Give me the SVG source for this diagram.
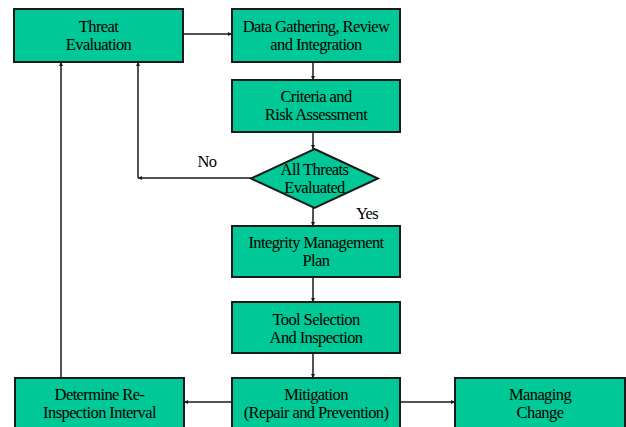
<svg xmlns="http://www.w3.org/2000/svg" width="626" height="427" viewBox="0 0 626 427">
<defs>
<style>
.box{fill:#00c896;stroke:#1a1a1a;stroke-width:2}
.t{font-family:'Liberation Serif','Times New Roman','DejaVu Serif',serif;font-size:16.5px;fill:#000;text-anchor:middle;letter-spacing:-0.6px}
.c{stroke:#1a1a1a;stroke-width:1.5;fill:none;marker-end:url(#ah)}
</style>
<marker id="ah" viewBox="0 0 10 10" refX="10" refY="5" markerWidth="4" markerHeight="4" orient="auto" markerUnits="userSpaceOnUse">
<path d="M0,0 L10,5 L0,10 z" fill="#1a1a1a"/>
</marker>
</defs>
<rect width="626" height="427" fill="#fff"/>
<g id="connectors">
<path class="c" d="M183,34 H232"/>
<path class="c" d="M313,62 V80"/>
<path class="c" d="M313,132 V149"/>
<path class="c" d="M251,178 H138"/>
<path class="c" d="M138,178 V62"/>
<path class="c" d="M313,208 V226"/>
<path class="c" d="M313,277 V302"/>
<path class="c" d="M313,353 V378"/>
<path class="c" d="M232,402 H184"/>
<path class="c" d="M400,402 H455"/>
<path class="c" d="M61,378 V62"/>
<text class="t" x="207" y="167" font-family="Liberation Serif, serif">No</text>
<text class="t" x="367" y="219" font-family="Liberation Serif, serif">Yes</text>
</g>
<g id="threat-evaluation">
<rect class="box" x="14" y="9" width="169" height="53"/>
<text class="t" x="98.5" y="32">Threat</text>
<text class="t" x="98.5" y="50">Evaluation</text>
</g>
<g id="data-gathering">
<rect class="box" x="232" y="9" width="168" height="53"/>
<text class="t" x="316" y="32">Data Gathering, Review</text>
<text class="t" x="316" y="50">and Integration</text>
</g>
<g id="criteria">
<rect class="box" x="232" y="80" width="168" height="52"/>
<text class="t" x="316" y="102">Criteria and</text>
<text class="t" x="316" y="120">Risk Assessment</text>
</g>
<g id="all-threats">
<polygon class="box" points="314.5,149 378,178.5 314.5,208 251,178.5"/>
<text class="t" x="314.5" y="175">All Threats</text>
<text class="t" x="314.5" y="193">Evaluated</text>
</g>
<g id="integrity-plan">
<rect class="box" x="232" y="226" width="168" height="51"/>
<text class="t" x="316" y="248">Integrity Management</text>
<text class="t" x="316" y="266">Plan</text>
</g>
<g id="tool-selection">
<rect class="box" x="232" y="302" width="168" height="51"/>
<text class="t" x="316" y="325">Tool Selection</text>
<text class="t" x="316" y="343">And Inspection</text>
</g>
<g id="mitigation">
<rect class="box" x="232" y="378" width="168" height="53"/>
<text class="t" x="316" y="400">Mitigation</text>
<text class="t" x="316" y="418">(Repair and Prevention)</text>
</g>
<g id="re-inspection">
<rect class="box" x="15" y="378" width="169" height="53"/>
<text class="t" x="99.5" y="400">Determine Re-</text>
<text class="t" x="99.5" y="418">Inspection Interval</text>
</g>
<g id="managing-change">
<rect class="box" x="455" y="378" width="170" height="53"/>
<text class="t" x="540" y="400">Managing</text>
<text class="t" x="540" y="418">Change</text>
</g>
</svg>
